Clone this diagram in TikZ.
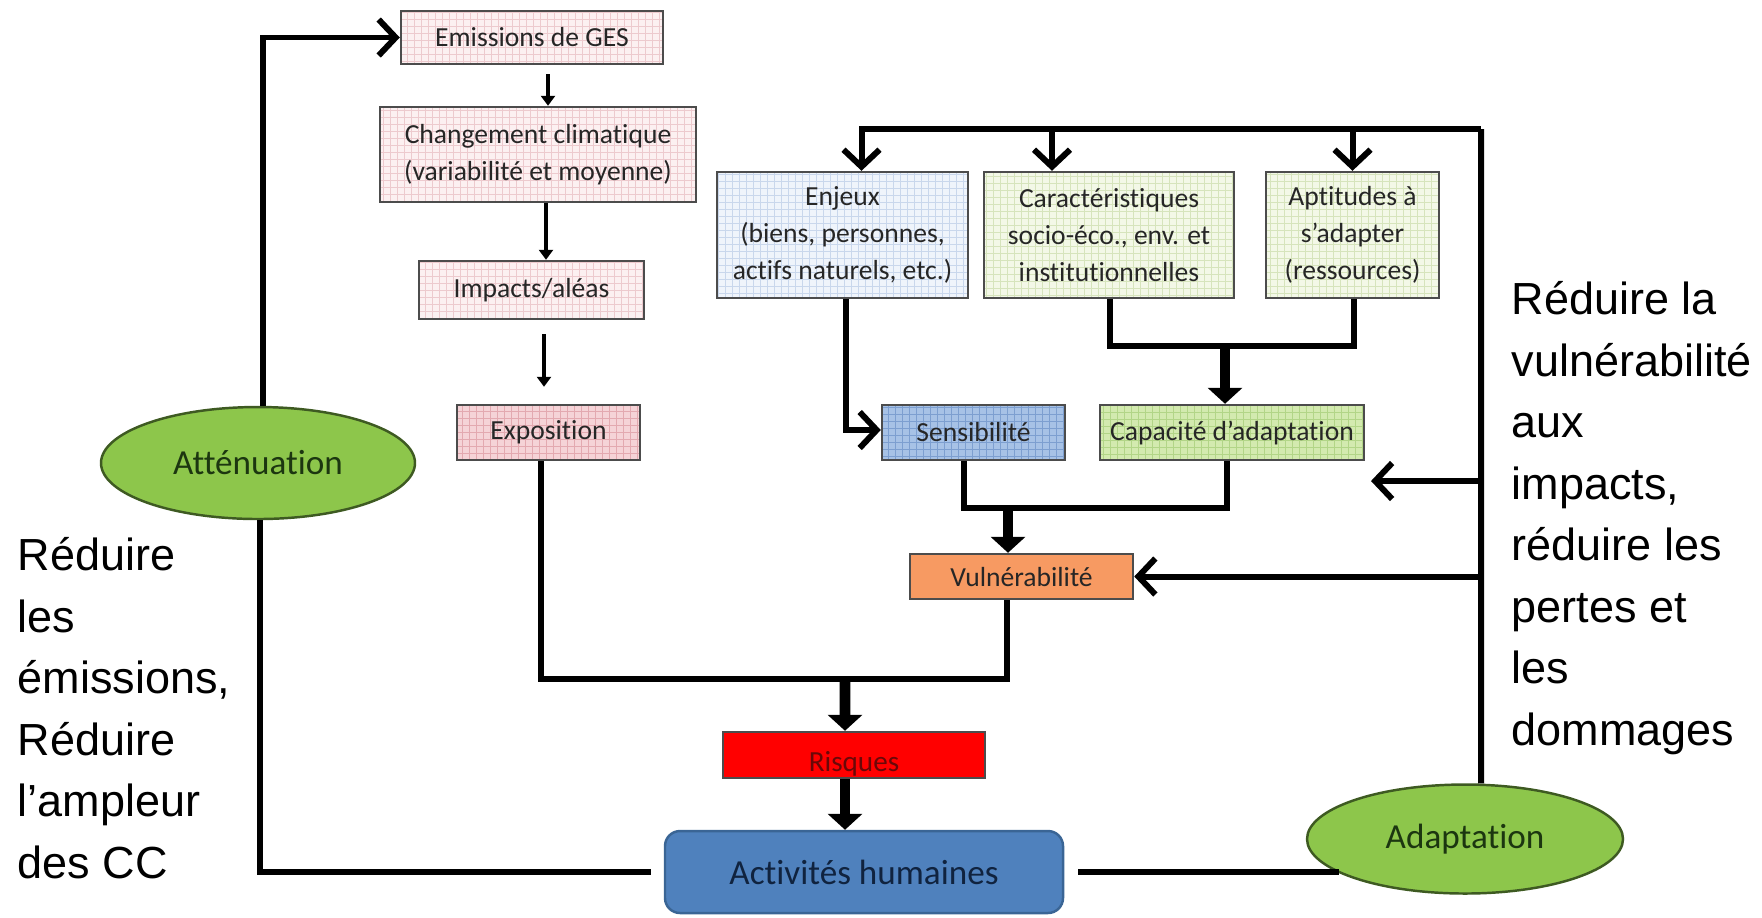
\documentclass[tikz,border=0pt]{standalone}
\usepackage{fontspec}
\setmainfont{Carlito}[Ligatures=NoCommon]
\newfontfamily\arial{Liberation Sans}
\usetikzlibrary{arrows.meta,shapes.geometric}

\definecolor{pinkbg}{HTML}{FCF0F1}\definecolor{pinkln}{HTML}{EDCACE}
\definecolor{rosebg}{HTML}{F5D3D7}\definecolor{roseln}{HTML}{E3A9B0}
\definecolor{skybg}{HTML}{EFF4FB}\definecolor{skyln}{HTML}{C9D7EC}
\definecolor{limebg}{HTML}{F3F8E7}\definecolor{limeln}{HTML}{D6E4BC}
\definecolor{bluebg}{HTML}{A7C2E6}\definecolor{blueln}{HTML}{7D9FD0}
\definecolor{greenbg}{HTML}{D3EAAF}\definecolor{greenln}{HTML}{B2D587}
\definecolor{orangebg}{HTML}{F79A62}
\definecolor{redbg}{HTML}{FF0000}\definecolor{redtxt}{HTML}{6A0808}
\definecolor{actbg}{HTML}{4F81BD}\definecolor{actln}{HTML}{3A6595}\definecolor{acttxt}{HTML}{10233F}
\definecolor{ovalbg}{HTML}{8DC64B}\definecolor{ovalln}{HTML}{3E5A22}\definecolor{ovaltxt}{HTML}{1C3610}

\begin{document}
\begin{tikzpicture}[
  box/.style={draw=black!70,line width=.7pt,inner sep=1pt,align=center,text=black!85,
    font=\fontsize{7.85}{10.5}\selectfont},
  wh/.style 2 args={minimum width=#1cm,minimum height=#2cm},
  cell/.style 2 args={fill=#1,path picture={\draw[#2,line width=.25pt,step=.07]
    (path picture bounding box.south west) grid (path picture bounding box.north east);}},
  oval/.style={ellipse,draw=ovalln,line width=.7pt,fill=ovalbg,text=ovaltxt,
    font=\fontsize{10}{12}\selectfont},
  bigtxt/.style={anchor=north west,inner sep=0,align=left,
    font=\arial\fontsize{12.8}{17.5}\selectfont},
  wire/.style={line width=1.7pt},
  fat/.style={line width=3pt},
  slim/.style={line width=1.1pt},
  openarr/.style={-{Straight Barb[length=1.7mm,width=3.6mm]}},
  fullarr/.style={-{Triangle[length=1.6mm,width=3.4mm]}},
  smallarr/.style={-{Triangle[length=1mm,width=1.4mm]}}]
\useasboundingbox (0,0) rectangle (17.62,-9.17);

\node[box,cell={pinkbg}{pinkln},wh={2.62}{.53}] (ges) at (5.32,-.375) {Emissions de GES};
\node[box,cell={pinkbg}{pinkln},wh={3.16}{.95}] (cc) at (5.38,-1.545) {Changement climatique\\(variabilité et moyenne)};
\node[box,cell={pinkbg}{pinkln},wh={2.25}{.58}] (imp) at (5.315,-2.9) {Impacts/aléas};
\node[box,cell={rosebg}{roseln},wh={1.83}{.55}] (expo) at (5.485,-4.325) {Exposition};

\node[box,cell={skybg}{skyln},wh={2.51}{1.26}] (enj) at (8.425,-2.35) {Enjeux\\(biens, personnes,\\actifs naturels, etc.)};
\node[box,cell={limebg}{limeln},wh={2.5}{1.26}] (car) at (11.09,-2.35) {Caractéristiques\\socio-éco., env. et\\institutionnelles};
\node[box,cell={limebg}{limeln},wh={1.73}{1.26}] (apt) at (13.525,-2.35) {Aptitudes à\\s’adapter\\(ressources)};

\node[box,cell={bluebg}{blueln},wh={1.83}{.55}] (sens) at (9.735,-4.325) {Sensibilité};
\node[box,cell={greenbg}{greenln},wh={2.64}{.55}] (capa) at (12.32,-4.325) {Capacité d’adaptation};
\node[box,fill=orangebg,wh={2.23}{.45}] (vul) at (10.215,-5.765) {Vulnérabilité};
\node[box,fill=redbg,text=redtxt,wh={2.62}{.46},text height=.33cm,text depth=0pt,
  font=\fontsize{8.3}{10}\selectfont] (ris) at (8.54,-7.55) {Risques};
\node[box,fill=actbg,draw=actln,text=acttxt,rounded corners=.15cm,wh={3.98}{.82},
  font=\fontsize{10}{12}\selectfont] (act) at (8.64,-8.72) {Activités humaines};

\node[oval,wh={3.14}{1.12}] (att) at (2.58,-4.63) {Atténuation};
\node[oval,wh={3.16}{1.09}] (adapt) at (14.65,-8.39) {Adaptation};

\node[bigtxt] (leftnote) at (.17,-5.37) {Réduire\\les\\émissions,\\Réduire\\l’ampleur\\des CC};
\node[bigtxt] (rightnote) at (15.11,-2.81) {Réduire la\\vulnérabilité\\aux\\impacts,\\réduire les\\pertes et\\les\\dommages};

\draw[slim,smallarr,shorten <=.09cm] ([xshift=.16cm]ges.south) -- ([xshift=.16cm]ges.south |- cc.north);
\draw[slim,smallarr] ([xshift=.08cm]cc.south) -- ([xshift=.08cm]cc.south |- imp.north);
\draw[slim,smallarr,shorten <=.14cm,shorten >=.17cm] ([xshift=.125cm]imp.south) -- ([xshift=.125cm]imp.south |- expo.north);

\draw[wire,openarr] ([xshift=.05cm]att.north) |- (ges.west);
\draw[wire] ([xshift=.02cm]att.south) |- ([xshift=-.13cm]act.west);
\draw[wire] ([xshift=.14cm]act.east) -- (act.east -| adapt.195);

\coordinate (bus) at (14.81,-1.29);
\draw[wire] ([xshift=.16cm]adapt.north) -- (bus);
\foreach \n/\dx in {enj/.19,car/-.57,apt/0}
\draw[wire,openarr] (bus) -| ([xshift=\dx cm]\n.north);
\coordinate (capaR) at (13.71,-4.81);
\draw[wire,openarr] (bus |- capaR) -- (capaR);
\draw[wire,openarr] (bus |- vul.east) -- (vul.east);

\draw[wire,openarr] ([xshift=.035cm]enj.south) |- ([yshift=.025cm]sens.west);
\coordinate (capjoin) at (12.25,-3.46);
\draw[wire] ([xshift=.01cm]car.south) |- (capjoin) -| ([xshift=.015cm]apt.south);
\draw[fat,fullarr] (capjoin) -- (capjoin |- capa.north);
\coordinate (vuljoin) at (10.08,-5.08);
\draw[wire] ([xshift=-.095cm]sens.south) |- (vuljoin) -| ([xshift=-.05cm]capa.south);
\draw[fat,fullarr] (vuljoin) -- (vuljoin |- vul.north);

\coordinate (join) at (8.45,-6.79);
\draw[wire] ([xshift=-.075cm]expo.south) |- (join) -| ([xshift=-.145cm]vul.south);
\draw[fat,fullarr] (join) -- ([xshift=-.09cm]ris.north);
\draw[fat,fullarr] ([xshift=-.09cm]ris.south) -- ([xshift=-.09cm]ris.south |- act.north);
\end{tikzpicture}
\end{document}
